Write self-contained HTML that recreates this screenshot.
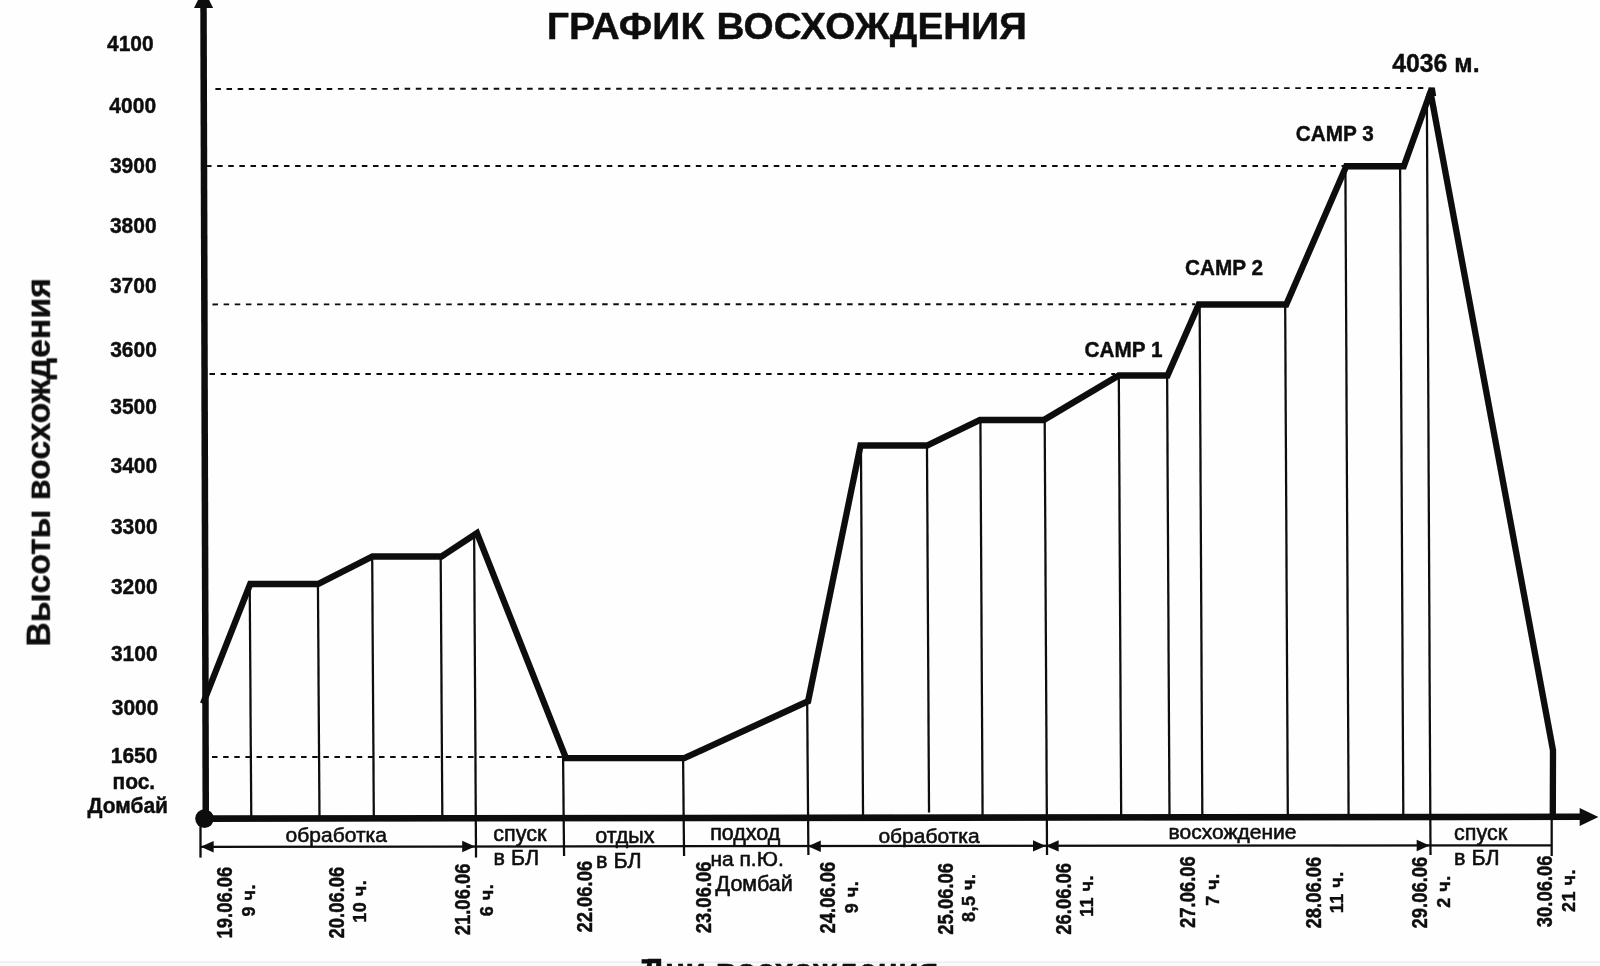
<!DOCTYPE html>
<html lang="ru"><head><meta charset="utf-8"><title>График восхождения</title>
<style>html,body{margin:0;padding:0;background:#fefefe;overflow:hidden}svg{display:block}text{font-family:"Liberation Sans",sans-serif;fill:#0b0b0b;stroke:#0b0b0b;stroke-width:.4px;stroke-linejoin:round}.r,.r2{stroke-width:.55px}.b{font-weight:bold}.r{font-weight:normal;font-size:21px}.r2{font-weight:normal;font-size:21.5px}.y{font-weight:bold;font-size:21px;text-anchor:middle}.c{font-weight:bold;font-size:20.5px}.d{font-weight:bold;font-size:21px}.h{font-weight:bold;font-size:18px;letter-spacing:.5px}.t{stroke:#0b0b0b;stroke-width:2.25;fill:none}.dash{stroke:#0b0b0b;stroke-width:1.95;stroke-dasharray:5.5 5.633;fill:none}</style></head><body>
<svg width="1600" height="966" viewBox="0 0 1600 966">
<rect x="0" y="0" width="1600" height="966" fill="#fefefe"/>
<rect x="0" y="962.5" width="1600" height="3.5" fill="#f7fbfb"/>
<rect x="0" y="961.6" width="1600" height="1" fill="#e1e3e4"/>
<defs><filter id="soft" x="0" y="0" width="1600" height="966" filterUnits="userSpaceOnUse"><feGaussianBlur stdDeviation="0.45"/></filter></defs>
<g filter="url(#soft)">
<line class="dash" x1="215.4" y1="89" x2="1427" y2="88"/>
<line class="dash" x1="206" y1="166.1" x2="1343.5" y2="166"/>
<line class="dash" x1="212.5" y1="304.4" x2="1195" y2="304.2"/>
<line class="dash" x1="209.5" y1="374" x2="1115" y2="374"/>
<line class="dash" x1="212" y1="757" x2="563.5" y2="757"/>
<line class="t" x1="249.73" y1="584" x2="251.27" y2="818"/>
<line class="t" x1="317.93" y1="584" x2="319.47" y2="818"/>
<line class="t" x1="372.18" y1="556.5" x2="373.82" y2="818"/>
<line class="t" x1="440.68" y1="556.5" x2="442.32" y2="818"/>
<line class="t" x1="474.13" y1="533" x2="476.03" y2="857.6"/>
<line class="t" x1="200.5" y1="818" x2="200.5" y2="857.6"/>
<line class="t" x1="563.08" y1="758" x2="564.07" y2="856"/>
<line class="t" x1="683.08" y1="758" x2="684.07" y2="856"/>
<line class="t" x1="807.17" y1="701" x2="808.38" y2="855"/>
<line class="t" x1="860.96" y1="445.5" x2="863.04" y2="818"/>
<line class="t" x1="926.97" y1="445.5" x2="929.03" y2="812.5"/>
<line class="t" x1="980.4" y1="420" x2="982.6" y2="818"/>
<line class="t" x1="1044.7" y1="420" x2="1047.04" y2="855"/>
<line class="t" x1="1118.82" y1="375.5" x2="1121.18" y2="818"/>
<line class="t" x1="1167.12" y1="375.5" x2="1169.48" y2="818"/>
<line class="t" x1="1199.67" y1="304.5" x2="1202.33" y2="818"/>
<line class="t" x1="1285.17" y1="304.5" x2="1287.83" y2="818"/>
<line class="t" x1="1345.4" y1="166" x2="1348.6" y2="818"/>
<line class="t" x1="1400.1" y1="166" x2="1403.3" y2="818"/>
<line class="t" x1="1426.86" y1="96" x2="1430.49" y2="855"/>
<line class="t" x1="1551.7" y1="818" x2="1551.7" y2="856"/>
<line class="t" x1="200.5" y1="846.8" x2="1551.7" y2="845.3"/>
<polygon fill="#0b0b0b" points="200.8,846.8 213.60000000000002,841.0999999999999 213.60000000000002,852.5"/>
<polygon fill="#0b0b0b" points="475,846.5 462.2,840.8 462.2,852.2"/>
<polygon fill="#0b0b0b" points="808,846.2 820.8,840.5 820.8,851.9000000000001"/>
<polygon fill="#0b0b0b" points="1045.8,845.9 1033.0,840.1999999999999 1033.0,851.6"/>
<polygon fill="#0b0b0b" points="1045.8,845.9 1058.6,840.1999999999999 1058.6,851.6"/>
<polygon fill="#0b0b0b" points="1429.5,845.5 1416.7,839.8 1416.7,851.2"/>
<line x1="203.5" y1="0" x2="205.8" y2="818.5" stroke="#0b0b0b" stroke-width="6.5"/>
<polygon fill="#0b0b0b" points="203.6,-11.2 194,7.9 213.1,7.9"/>
<line x1="204" y1="818.6" x2="1584" y2="816.8" stroke="#0b0b0b" stroke-width="6.6"/>
<polygon fill="#0b0b0b" points="1598.4,816.9 1579.7,807.9 1579.7,826"/>
<circle cx="204.5" cy="818.6" r="9.3" fill="#0b0b0b"/>
<polyline fill="none" stroke="#0b0b0b" stroke-width="6.3" stroke-linejoin="miter" stroke-miterlimit="3.2" points="203,703.6 250.2,584 318,584 372.5,556.5 441.5,556.5 477,533 566,758.2 684.3,758.2 808.1,701.2 860.5,445.5 927,445.5 980,420 1043.75,420 1118.75,375.5 1167.5,375.5 1198.75,304.5 1286.25,304.5 1346.25,166.25 1403.75,166.25 1430.5,92 1553,750.3 1552.8,817"/>
<polygon fill="#0b0b0b" points="1428.8,87.2 1434.8,87.6 1436.2,96 1426,96"/>
<text class="b" x="546.7" y="38.5" font-size="36.3" textLength="157.6" lengthAdjust="spacingAndGlyphs">ГРАФИК</text>
<text class="b" x="716.6" y="38.5" font-size="36.3" textLength="310.4" lengthAdjust="spacingAndGlyphs">ВОСХОЖДЕНИЯ</text>
<text class="b" transform="translate(49.8,646.6) rotate(-90)" font-size="33.5" textLength="368.4" lengthAdjust="spacingAndGlyphs">Высоты восхождения</text>
<text class="b" x="640.6" y="982.2" font-size="33.9" textLength="298" lengthAdjust="spacingAndGlyphs">Дни восхождения</text>
<rect x="641.6" y="959.2" width="8" height="4.3" fill="#0b0b0b"/>
<text class="y" transform="translate(130.3,51) scale(1,1.06)">4100</text>
<text class="y" transform="translate(132.7,112.5) scale(1,1.06)">4000</text>
<text class="y" transform="translate(133.25,172.5) scale(1,1.06)">3900</text>
<text class="y" transform="translate(133.25,232.5) scale(1,1.06)">3800</text>
<text class="y" transform="translate(133.25,293) scale(1,1.06)">3700</text>
<text class="y" transform="translate(133.5,357) scale(1,1.06)">3600</text>
<text class="y" transform="translate(133.6,413.5) scale(1,1.06)">3500</text>
<text class="y" transform="translate(133.8,473) scale(1,1.06)">3400</text>
<text class="y" transform="translate(134.25,533.75) scale(1,1.06)">3300</text>
<text class="y" transform="translate(134.25,593.75) scale(1,1.06)">3200</text>
<text class="y" transform="translate(134.25,660.75) scale(1,1.06)">3100</text>
<text class="y" transform="translate(135.1,714.5) scale(1,1.06)">3000</text>
<text class="y" transform="translate(134.1,763.25) scale(1,1.06)">1650</text>
<text class="y" transform="translate(133.85,789) scale(1,1.06)">пос.</text>
<text class="y" transform="translate(127.7,812.8) scale(1,1.06)">Домбай</text>
<text class="c" transform="translate(1084.5,357.2) scale(1.012,1.07)">CAMP 1</text>
<text class="c" transform="translate(1185.0,274.7) scale(1.012,1.07)">CAMP 2</text>
<text class="c" transform="translate(1295.75,140.95) scale(1.012,1.07)">CAMP 3</text>
<text class="b" transform="translate(1392.2,72.2) scale(1.013,1.055)" font-size="24.5">4036 м.</text>
<text class="r" x="285.6" y="841.6">обработка</text>
<text class="r2" x="493.3" y="840.7">спуск</text>
<text class="r2" x="493.6" y="864.6">в БЛ</text>
<text class="r2" x="595.2" y="842.5">отдых</text>
<text class="r2" x="596.1" y="867.7">в БЛ</text>
<text class="r2" x="710.2" y="840.4">подход</text>
<text class="r" x="710.4" y="866.0">на п.Ю.</text>
<text class="r2" x="715.6" y="891.0">Домбай</text>
<text class="r" x="878.4" y="842.5">обработка</text>
<text class="r" x="1168.6" y="838.75">восхождение</text>
<text class="r2" x="1454" y="840">спуск</text>
<text class="r2" x="1454.1" y="865">в БЛ</text>
<text class="d" transform="translate(232,938.5) rotate(-90) scale(1,1.02)" textLength="71.9" lengthAdjust="spacingAndGlyphs">19.06.06</text>
<text class="d" transform="translate(343.75,938.5) rotate(-90) scale(1,1.02)" textLength="71.9" lengthAdjust="spacingAndGlyphs">20.06.06</text>
<text class="d" transform="translate(469.9,935.3) rotate(-90) scale(1,1.02)" textLength="71.9" lengthAdjust="spacingAndGlyphs">21.06.06</text>
<text class="d" transform="translate(591.8,932.6) rotate(-90) scale(1,1.02)" textLength="71.9" lengthAdjust="spacingAndGlyphs">22.06.06</text>
<text class="d" transform="translate(710.6,933.3) rotate(-90) scale(1,1.02)" textLength="71.9" lengthAdjust="spacingAndGlyphs">23.06.06</text>
<text class="d" transform="translate(835,933.5) rotate(-90) scale(1,1.02)" textLength="71.9" lengthAdjust="spacingAndGlyphs">24.06.06</text>
<text class="d" transform="translate(952.5,934.75) rotate(-90) scale(1,1.02)" textLength="71.9" lengthAdjust="spacingAndGlyphs">25.06.06</text>
<text class="d" transform="translate(1070.5,934.75) rotate(-90) scale(1,1.02)" textLength="71.9" lengthAdjust="spacingAndGlyphs">26.06.06</text>
<text class="d" transform="translate(1195,928) rotate(-90) scale(1,1.02)" textLength="71.9" lengthAdjust="spacingAndGlyphs">27.06.06</text>
<text class="d" transform="translate(1321.25,928.5) rotate(-90) scale(1,1.02)" textLength="71.9" lengthAdjust="spacingAndGlyphs">28.06.06</text>
<text class="d" transform="translate(1427,928.5) rotate(-90) scale(1,1.02)" textLength="71.9" lengthAdjust="spacingAndGlyphs">29.06.06</text>
<text class="d" transform="translate(1552,927.25) rotate(-90) scale(1,1.02)" textLength="71.9" lengthAdjust="spacingAndGlyphs">30.06.06</text>
<text class="h" transform="translate(255,916.4) rotate(-90)">9 ч.</text>
<text class="h" transform="translate(365.6,922.6999999999999) rotate(-90)">10 ч.</text>
<text class="h" transform="translate(493,916.3) rotate(-90)">6 ч.</text>
<text class="h" transform="translate(858,913.3) rotate(-90)">9 ч.</text>
<text class="h" transform="translate(975,922.05) rotate(-90)">8,5 ч.</text>
<text class="h" transform="translate(1093,917.05) rotate(-90)">11 ч.</text>
<text class="h" transform="translate(1218.75,905.8) rotate(-90)">7 ч.</text>
<text class="h" transform="translate(1343,913.3) rotate(-90)">11 ч.</text>
<text class="h" transform="translate(1449.5,907.8) rotate(-90)">2 ч.</text>
<text class="h" transform="translate(1575,912.05) rotate(-90)">21 ч.</text>
</g>
</svg></body></html>
